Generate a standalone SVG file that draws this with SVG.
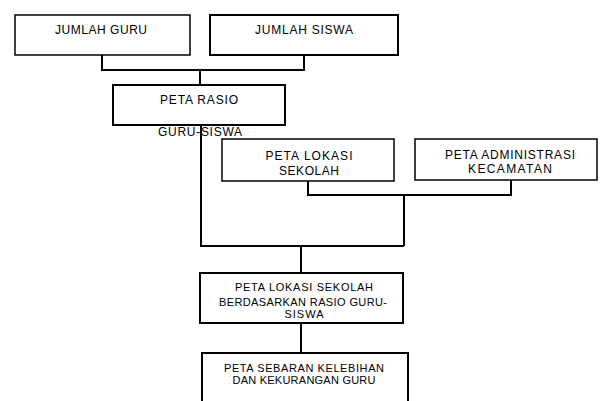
<svg xmlns="http://www.w3.org/2000/svg" width="600" height="401" viewBox="0 0 600 401">
<style>
.box{fill:#fff;stroke:#000;stroke-width:2}
.thin{stroke-width:1.5}
.t{font-family:"Liberation Sans",Arial,sans-serif;font-size:12px;fill:#000;text-anchor:middle}
.s{font-size:11px}
.c{fill:none;stroke:#000;stroke-width:2}
</style>
<rect width="600" height="401" fill="#fff"/>
<g id="connectors">
<path class="c" d="M102,55 V70 H304 V55"/>
<path class="c" d="M200,70 V85"/>
<path class="c" d="M308,181 V195 H511 V180"/>
<path class="c" d="M404,195 V246"/>
<path class="c" d="M301,246 V273"/>
<path class="c" d="M301,323 V353"/>
</g>
<g id="jumlah-guru">
<rect class="box thin" x="15" y="15" width="175" height="40"/>
<text class="t" x="101" y="34" textLength="92" lengthAdjust="spacing">JUMLAH GURU</text>
</g>
<g id="jumlah-siswa">
<rect class="box" x="210" y="15" width="188" height="40"/>
<text class="t" x="304" y="34" textLength="98" lengthAdjust="spacing">JUMLAH SISWA</text>
</g>
<g id="peta-rasio">
<rect class="box" x="113" y="85" width="172" height="40"/>
<text class="t" x="199" y="104" textLength="78" lengthAdjust="spacing">PETA RASIO</text>
<text class="t" x="200" y="136" textLength="84" lengthAdjust="spacing">GURU-SISWA</text>
</g>
<g id="connector-rasio">
<path class="c" d="M201,125 V246 H404"/>
</g>
<g id="peta-lokasi-sekolah">
<rect class="box thin" x="222" y="139" width="172" height="42"/>
<text class="t" x="309" y="160" textLength="87" lengthAdjust="spacing">PETA  LOKASI</text>
<text class="t" x="309" y="175" textLength="60" lengthAdjust="spacing">SEKOLAH</text>
</g>
<g id="peta-administrasi">
<rect class="box thin" x="415" y="139" width="182" height="41"/>
<text class="t" x="510" y="159" textLength="130" lengthAdjust="spacing">PETA ADMINISTRASI</text>
<text class="t" x="510" y="173" textLength="84" lengthAdjust="spacing">KECAMATAN</text>
</g>
<g id="peta-lokasi-rasio">
<rect class="box" x="200" y="273" width="203" height="50"/>
<text class="t s" x="304" y="291" textLength="138" lengthAdjust="spacing">PETA LOKASI SEKOLAH</text>
<text class="t s" x="303" y="306" textLength="168" lengthAdjust="spacing">BERDASARKAN RASIO GURU-</text>
<text class="t s" x="304" y="318" textLength="39" lengthAdjust="spacing">SISWA</text>
</g>
<g id="peta-sebaran">
<rect class="box" x="202" y="353" width="206" height="55"/>
<text class="t s" x="304" y="372" textLength="160" lengthAdjust="spacing">PETA SEBARAN KELEBIHAN</text>
<text class="t s" x="304" y="384" textLength="143" lengthAdjust="spacing">DAN KEKURANGAN GURU</text>
</g>
</svg>
